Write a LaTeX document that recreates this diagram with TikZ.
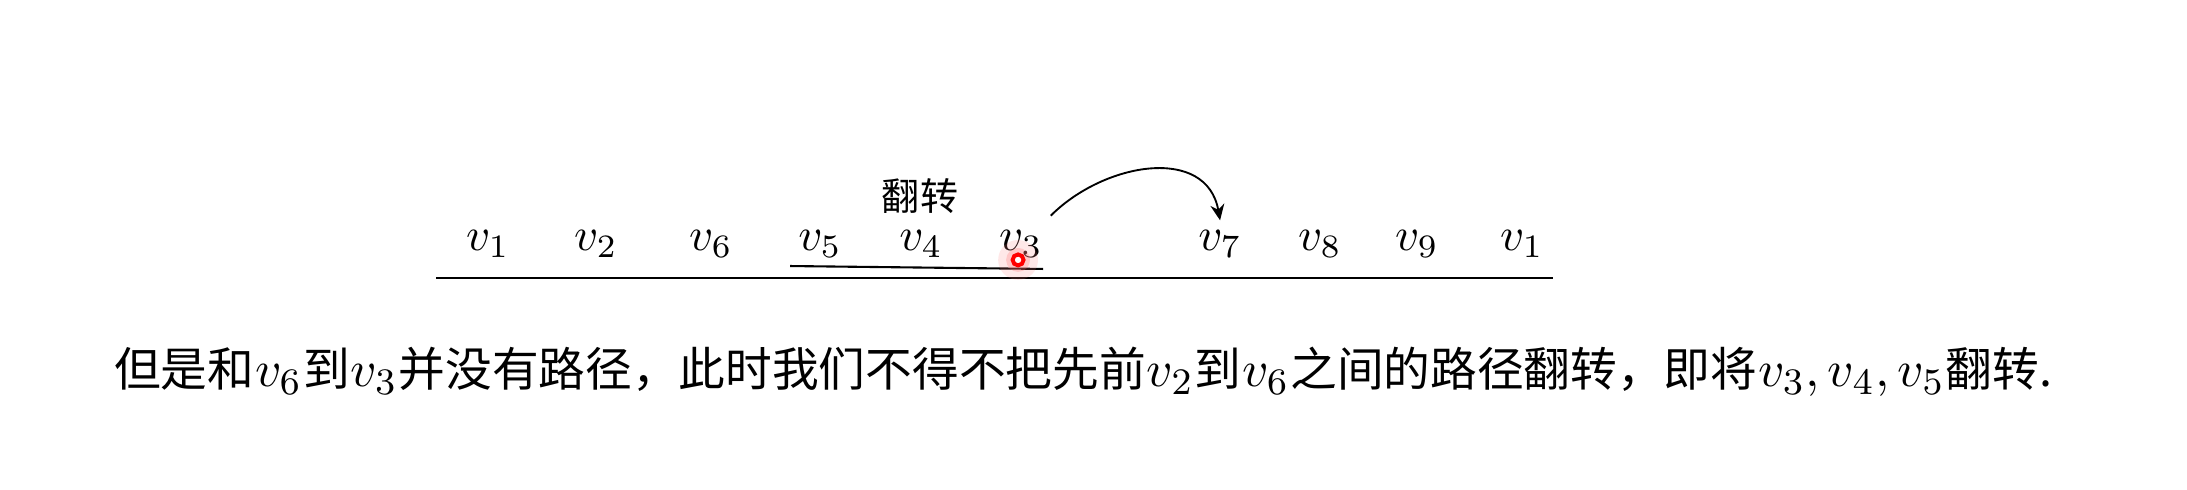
\documentclass[tikz,border=0pt]{standalone}
\usepackage{fontspec}
\newfontfamily\cjk[Scale=0.885]{Noto Sans CJK SC}
\usepackage{tikz}
\usetikzlibrary{arrows.meta, positioning}
\newcommand{\vv}[1]{\hspace{0.2pt}$v_{#1}$\hspace{0.2pt}}

\begin{document}
\begin{tikzpicture}[>=Stealth]
    \tikzstyle{vtx} = [anchor=base, inner sep=3pt]
    \tikzstyle{flip} = [font=\cjk\fontsize{9.2pt}{11pt}\selectfont, inner sep=1pt]
    \useasboundingbox (0,0) rectangle (16.457,3.687);

    % sequence of vertices, v3 v4 v5 still in old order
    \node (v1)  [vtx] at (3.672, 1.80) {$v_1$};
    \node (v2)  [vtx] at (4.485, 1.80) {$v_2$};
    \node (v6)  [vtx] at (5.350, 1.80) {$v_6$};
    \node (v5)  [vtx] at (6.171, 1.80) {$v_5$};
    \node (v4)  [vtx] at (6.931, 1.80) {$v_4$};
    \node (v3)  [vtx] at (7.683, 1.80) {$v_3$};
    \node (v7)  [vtx] at (9.181, 1.80) {$v_7$};
    \node (v8)  [vtx] at (9.933, 1.80) {$v_8$};
    \node (v9)  [vtx] at (10.663, 1.80) {$v_9$};
    \node (v1b) [vtx] at (11.453, 1.80) {$v_1$};

    \node (fliplabel) [flip] at (6.923, 2.212) {翻转};

    % base line under the sequence
    \coordinate (lineL) at (3.281, 1.595);
    \coordinate (lineR) at (11.686, 1.595);
    \draw (lineL) -- (lineR);

    % hand underline of the reversed part
    \coordinate (flipL) at (5.945, 1.685);
    \coordinate (flipR) at (7.849, 1.663);
    \draw [line width=0.45pt] (flipL) -- (flipR);

    % v3 -> v7
    \draw [-{Stealth[length=3.4pt, width=3pt]}]
      ([xshift=-1.5pt]v3.north east) to[out=45, in=100, looseness=1.15] ([yshift=-1pt]v7.north);

    % pointer
    \coordinate (pointer) at (7.661, 1.731);
    \fill [red!50, opacity=0.18] (pointer) circle (0.15);
    \fill [red!60, opacity=0.25] (pointer) circle (0.09);
    \draw [red, line width=0.85pt, fill=white] (pointer) circle (0.041);

    \node (caption) [anchor=base, font=\fontsize{11.3pt}{13pt}\selectfont] at (8.15, 0.775)
      {{\cjk 但是和}\vv{6}{\cjk 到}\vv{3}{\cjk 并没有路径，此时我们不得不把先前}\vv{2}{\cjk 到}\vv{6}{\cjk 之间的路径翻转，即将}\hspace{0.2pt}$v_3,v_4,v_5$\hspace{0.2pt}{\cjk 翻转.}};
\end{tikzpicture}
\end{document}
